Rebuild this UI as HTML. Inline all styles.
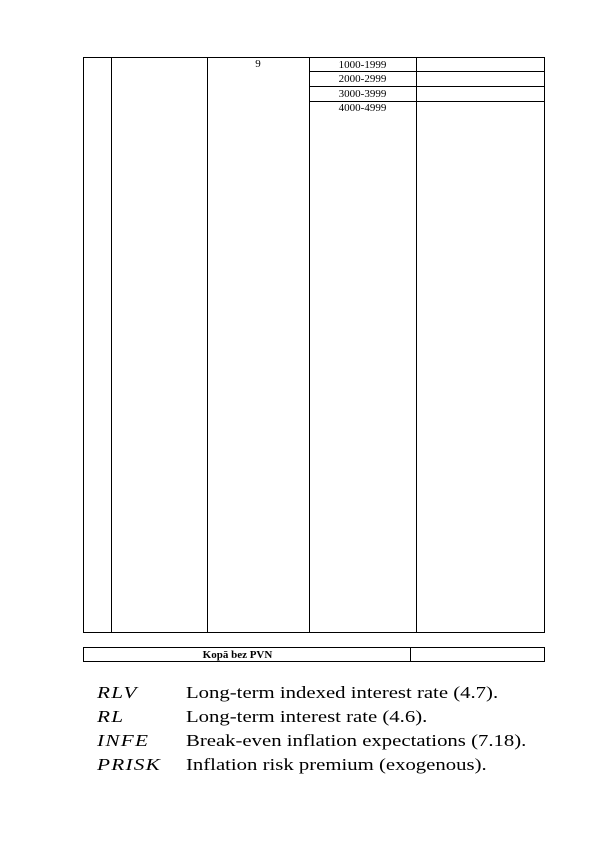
<!DOCTYPE html>
<html><head><meta charset="utf-8"><style>
body{margin:0;width:596px;height:842px;background:#fff;position:relative;overflow:hidden;font-family:"Liberation Serif",serif;color:#000}
.l{position:absolute;background:#000}
.t{position:absolute;font-size:11px;line-height:12px;text-align:center}
.row{position:absolute;left:97px;font-size:17px;line-height:20px;white-space:nowrap;width:500px}
.row i{position:absolute;left:0;top:0;font-style:italic;letter-spacing:1px;transform:scaleX(1.25);transform-origin:left}
.row span{position:absolute;left:89px;top:0;transform:scaleX(1.22);transform-origin:left}
</style></head><body>
<div>
<div class="l" style="left:83px;top:57px;width:462px;height:1px"></div>
<div class="l" style="left:83px;top:632px;width:462px;height:1px"></div>
<div class="l" style="left:83px;top:57px;width:1px;height:576px"></div>
<div class="l" style="left:111px;top:57px;width:1px;height:576px"></div>
<div class="l" style="left:207px;top:57px;width:1px;height:576px"></div>
<div class="l" style="left:309px;top:57px;width:1px;height:576px"></div>
<div class="l" style="left:416px;top:57px;width:1px;height:576px"></div>
<div class="l" style="left:544px;top:57px;width:1px;height:576px"></div>
<div class="l" style="left:309px;top:71px;width:236px;height:1px"></div>
<div class="l" style="left:309px;top:86px;width:236px;height:1px"></div>
<div class="l" style="left:309px;top:101px;width:236px;height:1px"></div>
<div class="t" style="left:207px;top:58px;width:102px">9</div>
<div class="t" style="left:309px;top:59px;width:107px">1000-1999</div>
<div class="t" style="left:309px;top:73px;width:107px">2000-2999</div>
<div class="t" style="left:309px;top:88px;width:107px">3000-3999</div>
<div class="t" style="left:309px;top:102px;width:107px">4000-4999</div>
</div>
<div>
<div class="l" style="left:83px;top:647px;width:462px;height:1px"></div>
<div class="l" style="left:83px;top:661px;width:462px;height:1px"></div>
<div class="l" style="left:83px;top:647px;width:1px;height:15px"></div>
<div class="l" style="left:410px;top:647px;width:1px;height:15px"></div>
<div class="l" style="left:544px;top:647px;width:1px;height:15px"></div>
<div class="t" style="left:83px;top:649px;width:327px;font-weight:bold;text-indent:-18px">Kopā bez PVN</div>
</div>
<div>
<div class="row" style="top:683px"><i>RLV</i><span>Long-term indexed interest rate (4.7).</span></div>
<div class="row" style="top:707px"><i>RL</i><span>Long-term interest rate (4.6).</span></div>
<div class="row" style="top:731px"><i>INFE</i><span>Break-even inflation expectations (7.18).</span></div>
<div class="row" style="top:755px"><i>PRISK</i><span>Inflation risk premium (exogenous).</span></div>
</div>
</body></html>
